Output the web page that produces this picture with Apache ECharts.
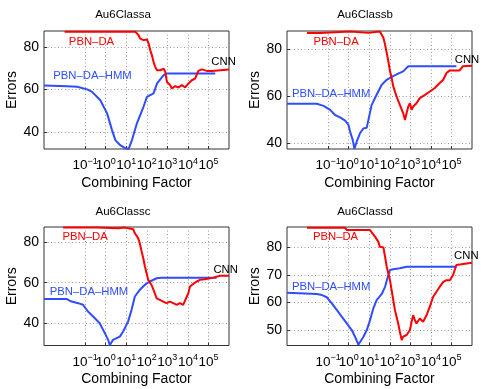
<!DOCTYPE html>
<html><head><meta charset="utf-8">
<script src="https://cdn.jsdelivr.net/npm/echarts@6/dist/echarts.min.js"></script>
<style>html,body{margin:0;padding:0;background:#fff}#c{width:485px;height:389px}</style>
</head><body><div id="c"></div>
<script>
const FONT = "'Liberation Sans', Arial, Helvetica, sans-serif";
const panelTitles = ['Au6Classa', 'Au6Classb', 'Au6Classc', 'Au6Classd'];
const xTickExponents = [-1, 0, 1, 2, 3, 4, 5];
const xLabelSlots = [-3, -1, 0, 1, 2, 3, 4, 5, 6];
const yTicksABC = [40, 60, 80];
const yTicksD = [50, 60, 70, 80];
const yRanges = [[31.9, 87.5], [37.6, 87.9], [29.0, 87.5], [44.4, 87.4]];

// x values are stored as log10(combining factor)
const aRedLX = [-2.0, 1.44, 1.60, 1.68, 1.84, 2.01, 2.09, 2.17, 2.25, 2.33, 2.41, 2.50, 2.66, 2.82, 2.90, 2.98, 3.14, 3.22, 3.38, 3.54, 3.71, 3.87, 4.03, 4.19, 4.35, 4.51, 4.68, 4.92, 5.17, 5.24, 6.0];
const aRedY = [87.2, 87.2, 85.5, 83.9, 83.2, 83.5, 81.6, 78.4, 76.1, 72.9, 70.6, 69.0, 69.0, 69.8, 68.2, 63.5, 62.0, 60.4, 61.5, 60.9, 62.0, 60.9, 62.8, 64.3, 65.1, 68.7, 69.4, 68.7, 68.7, 69.4, 69.4];
const aBlueLX = [-3.0, -1.87, -1.39, -0.90, -0.66, -0.26, 0.07, 0.31, 0.47, 0.71, 0.96, 1.12, 1.28, 1.52, 1.84, 2.01, 2.33, 2.50, 2.82, 2.98, 5.33];
const aBlueY = [61.8, 61.5, 61.2, 60.0, 58.8, 54.9, 48.7, 40.8, 36.1, 33.7, 32.2, 32.0, 36.1, 44.0, 51.8, 56.5, 58.1, 62.8, 66.7, 67.5, 67.5];

const bRedLX = [-2.03, -1.38, -1.30, 0.07, 0.15, 0.96, 1.04, 1.52, 1.61, 1.69, 1.77, 1.85, 1.93, 2.01, 2.09, 2.17, 2.33, 2.49, 2.65, 2.74, 2.82, 2.90, 2.98, 3.06, 3.14, 3.30, 3.46, 3.71, 3.95, 4.19, 4.43, 4.60, 4.76, 4.92, 5.40, 5.56, 6.0];
const bRedY = [87.1, 87.1, 87.7, 87.7, 87.1, 87.1, 87.7, 87.7, 87.1, 85.0, 82.1, 78.6, 75.0, 70.7, 67.9, 64.3, 60.0, 56.4, 52.9, 50.0, 52.9, 55.7, 57.1, 54.3, 55.7, 57.1, 59.3, 60.7, 62.1, 63.6, 65.7, 67.1, 70.0, 71.1, 71.1, 72.9, 73.1];
const bBlueLX = [-3.0, -1.55, -1.22, -0.90, -0.66, -0.42, -0.17, -0.01, 0.07, 0.20, 0.28, 0.39, 0.55, 0.72, 0.88, 0.96, 1.12, 1.36, 1.61, 1.85, 2.09, 2.41, 2.65, 2.90, 5.24];
const bBlueY = [56.9, 56.9, 56.0, 54.3, 52.1, 51.1, 49.7, 47.9, 45.0, 41.4, 37.7, 40.7, 44.3, 46.4, 46.7, 50.0, 56.4, 60.7, 65.0, 67.1, 68.3, 69.7, 70.7, 72.9, 72.9];

const cRedLX = [-2.07, -0.45, -0.37, 0.61, 0.69, 0.93, 1.02, 1.34, 1.42, 1.50, 1.58, 1.66, 1.75, 1.83, 1.91, 1.99, 2.07, 2.23, 2.39, 2.48, 2.64, 2.80, 2.96, 3.13, 3.29, 3.45, 3.61, 3.77, 3.86, 4.02, 4.10, 4.26, 4.43, 4.59, 4.83, 5.24, 5.56, 6.0];
const cRedY = [87.2, 87.2, 86.9, 86.9, 87.2, 87.2, 86.9, 86.4, 84.4, 83.6, 82.0, 79.5, 75.4, 72.1, 68.0, 64.7, 61.4, 58.9, 54.8, 52.3, 51.5, 50.7, 49.9, 50.7, 49.9, 49.1, 49.9, 49.1, 49.9, 54.8, 58.1, 59.4, 60.6, 61.4, 61.7, 62.5, 63.4, 63.4];
const cBlueLX = [-3.0, -1.91, -1.66, -1.34, -1.10, -0.86, -0.61, -0.29, -0.04, 0.12, 0.20, 0.36, 0.53, 0.69, 0.85, 1.09, 1.26, 1.42, 1.66, 1.90, 2.15, 2.48, 2.72, 5.40];
const cBlueY = [52.0, 52.0, 50.7, 49.9, 49.1, 45.8, 43.3, 40.0, 35.1, 31.8, 29.1, 31.8, 32.6, 33.4, 35.9, 40.8, 46.6, 53.2, 56.5, 58.9, 60.6, 62.2, 62.5, 62.5];

const dRedLX = [-2.03, -0.17, -0.09, 1.04, 1.12, 1.28, 1.44, 1.52, 1.69, 1.77, 1.85, 1.93, 2.01, 2.09, 2.17, 2.25, 2.33, 2.41, 2.49, 2.58, 2.65, 2.82, 2.98, 3.06, 3.14, 3.22, 3.30, 3.46, 3.62, 3.79, 3.95, 4.11, 4.27, 4.43, 4.60, 4.76, 4.92, 5.08, 5.24, 6.0];
const dRedY = [87.1, 87.1, 86.3, 86.3, 85.7, 83.9, 82.1, 80.2, 80.0, 76.6, 73.0, 70.6, 68.1, 64.5, 60.9, 57.3, 54.8, 52.4, 49.4, 46.4, 47.6, 48.2, 50.0, 53.0, 55.4, 53.6, 52.4, 54.2, 53.0, 55.4, 58.5, 62.1, 63.9, 65.7, 67.5, 68.1, 68.1, 70.0, 73.6, 74.4];
const dBlueLX = [-3.0, -1.55, -1.30, -1.06, -0.82, -0.58, -0.33, -0.09, 0.15, 0.31, 0.47, 0.55, 0.72, 0.88, 1.04, 1.20, 1.36, 1.61, 1.77, 1.93, 2.01, 2.17, 2.49, 2.82, 5.24];
const dBlueY = [63.5, 63.1, 62.7, 61.9, 59.7, 57.3, 54.8, 52.4, 50.0, 47.6, 44.7, 45.2, 47.6, 50.0, 53.6, 57.9, 60.9, 63.1, 65.7, 70.0, 71.8, 72.1, 72.4, 73.0, 73.0];

// annotation anchors: [log10 x, y, text, which]
const aNotes = [[-1.79, 82.4, 'PBN–DA', 'r'], [-2.55, 66.2, 'PBN–DA–HMM', 'b'], [5.14, 72.9, 'CNN', 'k']];
const bNotes = [[-1.71, 83.1, 'PBN–DA', 'r'], [-2.76, 61.0, 'PBN–DA–HMM', 'b'], [5.16, 75.4, 'CNN', 'k']];
const cNotes = [[-2.10, 82.8, 'PBN–DA', 'r'], [-2.72, 55.6, 'PBN–DA–HMM', 'b'], [5.24, 66.3, 'CNN', 'k']];
const dNotes = [[-1.74, 83.8, 'PBN–DA', 'r'], [-2.76, 65.7, 'PBN–DA–HMM', 'b'], [5.13, 77.0, 'CNN', 'k']];

const RED = '#ff0000', BLUE = '#2f4dff';
const noteColor = { r: RED, b: BLUE, k: '#000' };
const panels = [
  { red: [aRedLX, aRedY], blue: [aBlueLX, aBlueY], notes: aNotes, yt: yTicksABC },
  { red: [bRedLX, bRedY], blue: [bBlueLX, bBlueY], notes: bNotes, yt: yTicksABC },
  { red: [cRedLX, cRedY], blue: [cBlueLX, cBlueY], notes: cNotes, yt: yTicksABC },
  { red: [dRedLX, dRedY], blue: [dBlueLX, dBlueY], notes: dNotes, yt: yTicksD }
];
const gridBoxes = [
  { left: 44, top: 31, width: 185, height: 118 },
  { left: 287, top: 31, width: 185, height: 118 },
  { left: 44, top: 227, width: 185, height: 118.5 },
  { left: 287, top: 227, width: 185, height: 118.5 }
];
const titlePos = [[123, 15], [365, 15], [123, 212], [365, 212]];

const xTickVals = xTickExponents.map(e => Math.pow(10, e));
const xLabelVals = xLabelSlots.map(e => Math.pow(10, e));
const dotted = { color: '#9a9a9a', type: [1, 2.5], width: 1 };

const toPts = (lx, y) => lx.map((e, k) => [Math.pow(10, e), y[k]]);

const option = {
  animation: false,
  backgroundColor: '#fff',
  textStyle: { fontFamily: FONT },
  grid: gridBoxes.map(g => Object.assign({ show: true, borderColor: '#333', borderWidth: 1, backgroundColor: 'transparent' }, g)),
  xAxis: panels.map((p, i) => ({
    type: 'log', logBase: 10, gridIndex: i, min: 0.001, max: 1e6,
    axisLine: { show: false },
    axisTick: { show: true, inside: true, length: 3, customValues: xTickVals, lineStyle: { color: '#333' } },
    axisLabel: {
      customValues: xLabelVals, margin: 8, color: '#000',
      hideOverlap: false, showMinLabel: true, showMaxLabel: true,
      formatter: v => {
        const e = Math.round(Math.log10(v));
        if (xTickExponents.indexOf(e) < 0) return ' ';
        return '{b|10}{s|' + String(e).replace('-', '−') + '}';
      },
      rich: {
        b: { fontSize: 13.5, lineHeight: 17, fontFamily: FONT, color: '#000' },
        s: { fontSize: 9, lineHeight: 9, verticalAlign: 'top', fontFamily: FONT, color: '#000' }
      }
    },
    splitLine: { show: true, lineStyle: dotted },
    name: 'Combining Factor', nameLocation: 'middle', nameGap: 27, nameMoveOverlap: false,
    nameTextStyle: { fontSize: 14, color: '#000', fontFamily: FONT }
  })),
  yAxis: panels.map((p, i) => ({
    type: 'value', gridIndex: i, min: yRanges[i][0], max: yRanges[i][1],
    axisLine: { show: false },
    axisTick: { show: true, inside: true, length: 3, customValues: p.yt, lineStyle: { color: '#333' } },
    axisLabel: { customValues: p.yt, fontSize: 14, color: '#000', margin: 5, fontFamily: FONT, hideOverlap: false },
    splitLine: { show: true, lineStyle: dotted },
    name: 'Errors', nameLocation: 'middle', nameGap: 25, nameMoveOverlap: false,
    nameTextStyle: { fontSize: 14, color: '#000', fontFamily: FONT }
  })),
  graphic: panelTitles.map((t, i) => ({
    type: 'text', x: titlePos[i][0], y: titlePos[i][1],
    style: { text: t, fill: '#000', fontSize: 11.5, fontFamily: FONT, align: 'center', verticalAlign: 'middle' }
  })),
  series: []
};

panels.forEach((p, i) => {
  option.series.push({
    type: 'line', xAxisIndex: i, yAxisIndex: i, data: toPts(p.blue[0], p.blue[1]),
    symbol: 'none', lineStyle: { width: 2, color: BLUE }, itemStyle: { color: BLUE }, z: 3
  });
  option.series.push({
    type: 'line', xAxisIndex: i, yAxisIndex: i, data: toPts(p.red[0], p.red[1]),
    symbol: 'none', lineStyle: { width: 2, color: RED }, itemStyle: { color: RED }, z: 4,
    markPoint: {
      symbol: 'circle', symbolSize: 0, silent: true,
      data: p.notes.map(n => ({
        name: n[2], coord: [Math.pow(10, n[0]), n[1]],
        label: { show: true, position: 'right', distance: 0, formatter: n[2], color: noteColor[n[3]], fontSize: 11.3, fontFamily: FONT }
      }))
    }
  });
});

const chart = echarts.init(document.getElementById('c'), null, { renderer: 'canvas' });
chart.setOption(option);
</script></body></html>
